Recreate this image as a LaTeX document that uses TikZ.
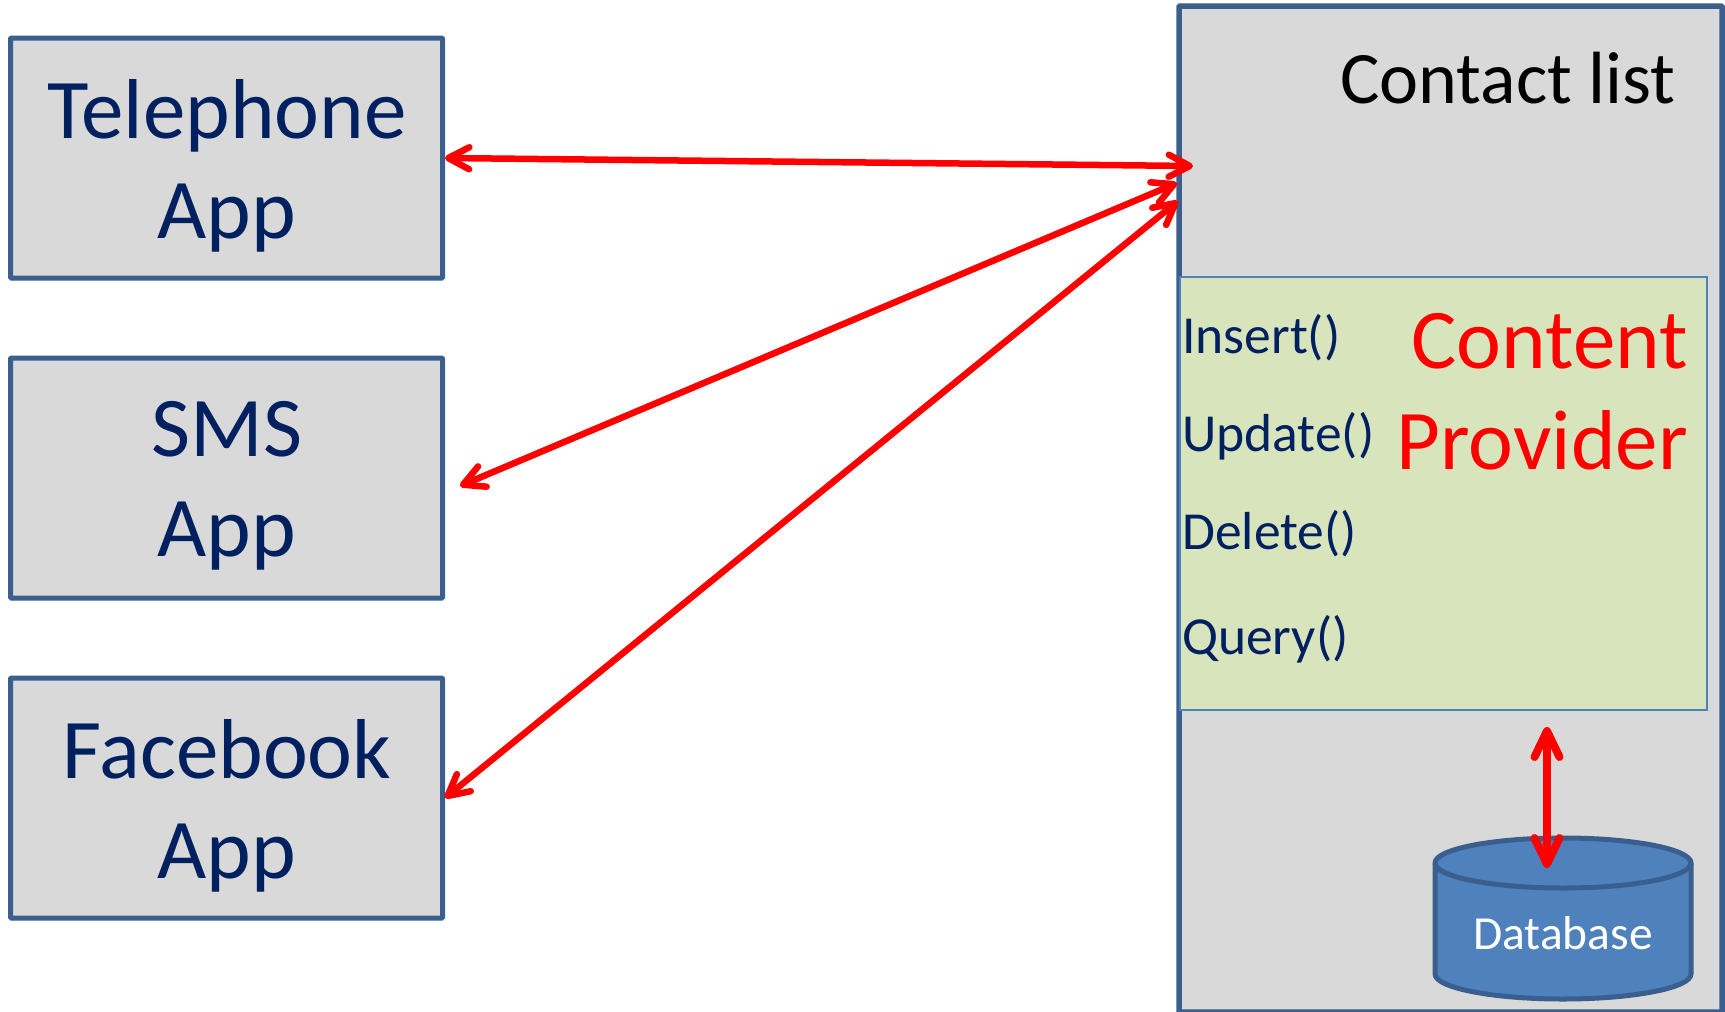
\documentclass[tikz,border=0pt]{standalone}
\usepackage{fontspec}
\setmainfont{Carlito}
\usetikzlibrary{arrows.meta}
\definecolor{edgeblue}{HTML}{3A5F8E}
\definecolor{boxgray}{HTML}{D9D9D9}
\definecolor{provgreen}{HTML}{D8E4BC}
\definecolor{dbblue}{HTML}{4F81BD}
\definecolor{navytext}{HTML}{002060}
\tikzset{
	appbox/.style={draw=edgeblue, fill=boxgray, line width=5pt, rounded corners=1pt, minimum width=432pt, minimum height=240pt, inner sep=0pt},
	apptext/.style={inner sep=0pt, align=center, text=navytext, font=\fontsize{85}{100}\selectfont},
	method/.style={anchor=west, inner sep=0pt, text=navytext, font=\fontsize{53.5}{64}\selectfont},
	provtext/.style={anchor=east, inner sep=0pt, text=red, font=\fontsize{85}{102}\selectfont},
	dbshape/.style={draw=edgeblue, fill=dbblue, line width=5pt},
	link/.style={draw=red, line width=6.5pt, {Straight Barb[round,length=21pt,width=22pt]}-{Straight Barb[round,length=21pt,width=22pt]}},
	dblink/.style={draw=red, line width=8pt, {Straight Barb[round,length=26pt,width=25pt]}-{Straight Barb[round,length=26pt,width=25pt]}},
}
\begin{document}
\begin{tikzpicture}[x=1pt,y=-1pt]
	\useasboundingbox (0,0) rectangle (1725,1012);

	\node[draw=edgeblue, fill=boxgray, line width=5.5pt, rounded corners=1pt, minimum width=543pt, minimum height=1006pt, inner sep=0pt] (list) at (1450.5,509) {};
	\node[anchor=east, inner sep=0pt, font=\fontsize{74}{88}\selectfont] (title) at (1676,78) {Contact list};

	\node[draw=dbblue, fill=provgreen, line width=2pt, minimum width=527pt, minimum height=433pt, inner sep=0pt] (prov) at (1443.5,493.5) {};
	\node[provtext] (content) at (1688,341) {Content};
	\node[provtext] (provider) at (1688,440) {Provider};
	\node[method] (ins) at (1182,338) {Insert()};
	\node[method] (upd) at (1182,436) {Update()};
	\node[method] (del) at (1182,534) {Delete()};
	\node[method] (qry) at (1182,639) {Query()};

	% database drum
	\draw[dbshape] (1435,863) -- (1435,974) arc[start angle=180, end angle=0, x radius=128, y radius=25] -- (1691,863) arc[start angle=0, end angle=-180, x radius=128, y radius=25] -- cycle;
	\draw[dbshape] (1435,863) arc[start angle=180, end angle=0, x radius=128, y radius=25];
	\node[inner sep=0pt, text=white, font=\fontsize{47.5}{56}\selectfont] (db) at (1563,933) {Database};

	\node[appbox] (tel) at (226.5,158) {};
	\node[appbox] (sms) at (226.5,478) {};
	\node[appbox] (fb) at (226.5,798) {};
	\node[apptext] (teltext) at (227,166) {Telephone\\App};
	\node[apptext] (smstext) at (227,486) {SMS\\App};
	\node[apptext] (fbtext) at (227,806) {Facebook\\App};

	\coordinate (c1) at (1193,166);
	\coordinate (c2) at (1177,183);
	\coordinate (c3) at (1178,201);
	\coordinate (s1) at (460,486);
	\coordinate (d1) at (1547,727);
	\coordinate (d2) at (1547,868);

	\draw[link] (tel.east) to (c1);
	\draw[link] (s1) to (c2);
	\draw[link] (fb.east) to (c3);
	\draw[dblink] (d1) to (d2);
\end{tikzpicture}
\end{document}
